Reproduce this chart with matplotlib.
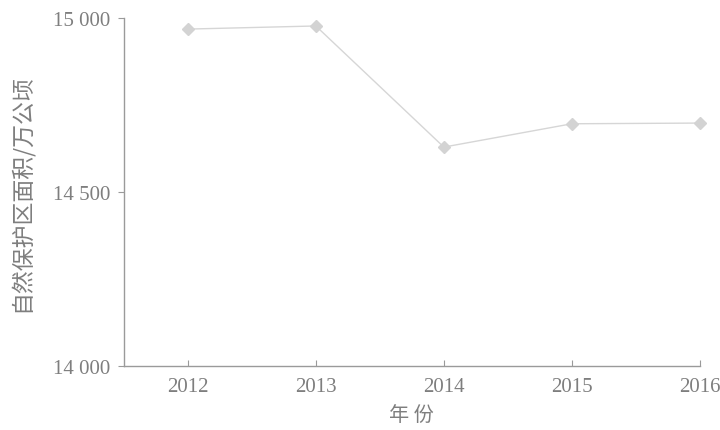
import matplotlib
matplotlib.use("Agg")
import matplotlib.pyplot as plt
from matplotlib.ticker import FuncFormatter

# data
years = [2012, 2013, 2014, 2015, 2016]
area = [14968, 14977, 14629, 14696, 14698]
y_ticks = [14000, 14500, 15000]

text_color = "#7e7e7e"
serif = ["Liberation Serif", "DejaVu Serif"]
cjk = ["Noto Sans CJK SC", "DejaVu Sans"]

fig = plt.figure(figsize=(7.2, 4.31), dpi=100)
ax = fig.add_axes([0.172, 0.1485, 0.8, 0.8075])

ax.plot(years, area, color="#d6d6d6", linewidth=1.0, marker="D",
        markersize=6, markerfacecolor="#d3d3d3", markeredgecolor="#d3d3d3",
        clip_on=False)

ax.set_xlim(2011.5, 2016)
ax.set_ylim(14000, 15000)
ax.set_xticks(years)
ax.set_yticks(y_ticks)
ax.yaxis.set_major_formatter(FuncFormatter(lambda v, p: f"{int(v):,}".replace(",", " ")))

for s in ["top", "right"]:
    ax.spines[s].set_visible(False)
for s in ["left", "bottom"]:
    ax.spines[s].set_color("#9a9a9a")
    ax.spines[s].set_linewidth(1.0)

ax.tick_params(axis="x", direction="in", length=4, color="#9a9a9a", labelcolor=text_color, pad=8)
ax.tick_params(axis="y", direction="out", length=4, color="#9a9a9a", labelcolor=text_color, pad=6)
for lbl in ax.get_xticklabels() + ax.get_yticklabels():
    lbl.set_family(serif)
    lbl.set_fontsize(15)

ax.set_ylabel("自然保护区面积/万公顷", family=cjk, fontsize=16.5, color=text_color, labelpad=14)
ax.set_xlabel("年 份", family=cjk, fontsize=14.5, color=text_color, labelpad=6)

fig.savefig("out.png", dpi=100)
